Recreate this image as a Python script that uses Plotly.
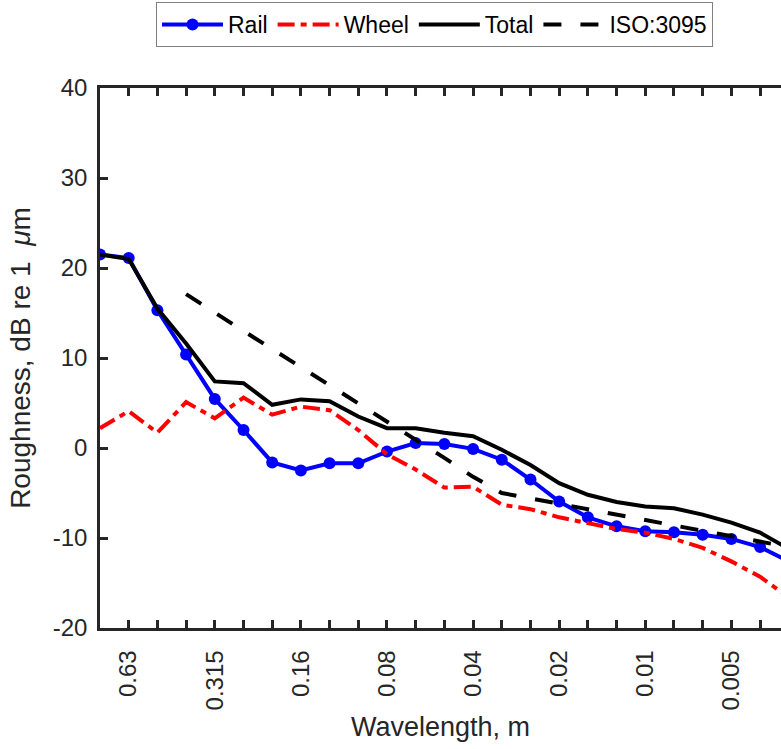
import plotly.graph_objects as go

# Third-octave wavelength bands (m), left to right
wavelength_labels = ["0.8", "0.63", "0.5", "0.4", "0.315", "0.25", "0.2", "0.16",
                     "0.125", "0.1", "0.08", "0.063", "0.05", "0.04", "0.0315",
                     "0.025", "0.02", "0.016", "0.0125", "0.01", "0.008", "0.0063",
                     "0.005", "0.004", "0.00315"]
labeled_ticks = ["0.63", "0.315", "0.16", "0.08", "0.04", "0.02", "0.01", "0.005"]
band_index = list(range(len(wavelength_labels)))

rail = [21.5, 21.1, 15.3, 10.4, 5.45, 2.0, -1.6, -2.5, -1.7, -1.7, -0.4, 0.55,
        0.45, -0.1, -1.3, -3.5, -5.95, -7.7, -8.7, -9.25, -9.35, -9.65, -10.1,
        -11.0, -12.6]
wheel = [2.2, 4.1, 1.7, 5.1, 3.3, 5.6, 3.7, 4.6, 4.2, 2.0, -0.7, -2.4, -4.4,
         -4.3, -6.3, -6.8, -7.7, -8.4, -9.0, -9.4, -10.1, -11.1, -12.6, -14.3,
         -16.6]
total = [21.5, 21.0, 15.5, 11.6, 7.4, 7.2, 4.8, 5.4, 5.2, 3.5, 2.2, 2.2, 1.7,
         1.3, -0.2, -1.9, -3.9, -5.2, -6.0, -6.5, -6.7, -7.4, -8.3, -9.4, -11.2]
iso_band_index = band_index[3:]
iso3095 = [17.1, 15.0, 13.0, 11.0, 9.0, 7.0, 4.9, 2.9, 0.9, -1.1, -3.2, -5.0,
           -5.6, -6.2, -6.8, -7.4, -8.0, -8.6, -9.2, -9.8, -10.4, -11.0]

y_tick_values = [-20, -10, 0, 10, 20, 30, 40]
y_tick_labels = ["-20", "-10", "0", "10", "20", "30", "40"]

FONT = "Liberation Sans, Arial, sans-serif"
AX = "#262626"

fig = go.Figure()
fig.add_trace(go.Scatter(x=band_index, y=rail, name="Rail", mode="lines+markers",
                         line=dict(color="#0000ff", width=4),
                         marker=dict(symbol="circle", size=12, color="#0000ff")))
fig.add_trace(go.Scatter(x=band_index, y=wheel, name="Wheel", mode="lines",
                         line=dict(color="#ff0000", width=4, dash="17px,6px,6px,6px")))
fig.add_trace(go.Scatter(x=band_index, y=total, name="Total", mode="lines",
                         line=dict(color="#000000", width=4)))
fig.add_trace(go.Scatter(x=iso_band_index, y=iso3095, name="ISO:3095", mode="lines",
                         line=dict(color="#000000", width=4, dash="18px,19px")))

ticktext = [w if w in labeled_ticks else "" for w in wavelength_labels]

fig.update_layout(
    width=781, height=749,
    margin=dict(l=100, r=0, t=88, b=121),
    paper_bgcolor="white", plot_bgcolor="white",
    font=dict(family=FONT, color=AX),
    showlegend=True,
    legend=dict(orientation="h", xref="container", yref="container",
                x=156 / 781, xanchor="left", y=1 - 2 / 749, yanchor="top",
                bgcolor="white", bordercolor="#7f7f7f", borderwidth=1,
                itemwidth=61, font=dict(family=FONT, size=23, color="black"),
                tracegroupgap=0),
    xaxis=dict(range=[0, 23.73], tickmode="array", tickvals=band_index,
               ticktext=ticktext, tickangle=-90, ticks="inside", ticklen=8,
               tickwidth=2.5, tickcolor=AX, showline=True, linecolor=AX,
               linewidth=2.5, mirror="ticks", showgrid=False, zeroline=False,
               tickfont=dict(size=24, color=AX), ticklabelstandoff=10,
               title=dict(text="Wavelength, m", font=dict(size=27, color=AX),
                          standoff=8)),
    yaxis=dict(range=[-20, 40], tickmode="array", tickvals=y_tick_values,
               ticktext=y_tick_labels, ticks="inside", ticklen=8, tickwidth=2.5,
               tickcolor=AX, showline=True, linecolor=AX, linewidth=2.5,
               mirror=False, showgrid=False, zeroline=False,
               tickfont=dict(size=24, color=AX), ticklabelstandoff=5,
               title=dict(text="Roughness, dB re 1\u00a0\u00a0<i>\u03bc</i>m",
                          font=dict(size=28, color=AX), standoff=14)),
)

fig.write_html("out.html")
